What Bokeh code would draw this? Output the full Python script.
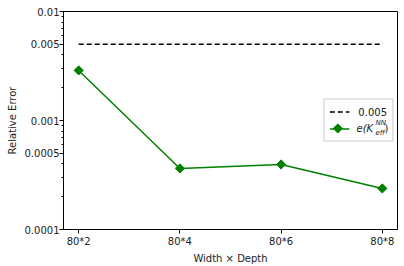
import math
from bokeh.plotting import figure
from bokeh.models import FixedTicker, Range1d, Legend, LegendItem, Label
from bokeh.embed import file_html
from bokeh.resources import INLINE

categories = ["80*2", "80*4", "80*6", "80*8"]
x_pos = [0, 1, 2, 3]
errors = [0.00288, 0.000363, 0.000395, 0.000238]
threshold = [0.005, 0.005, 0.005, 0.005]
y_major = [0.0001, 0.0005, 0.001, 0.005, 0.01]
y_major_labels = ["0.0001", "0.0005", "0.001", "0.005", "0.01"]
y_minor = [0.0002, 0.0003, 0.0004, 0.0006, 0.0007, 0.0008, 0.0009,
           0.002, 0.003, 0.004, 0.006, 0.007, 0.008, 0.009]

FONT = "DejaVu Sans"
TXT = "#222222"

p = figure(width=404, height=266, output_backend="svg", toolbar_location=None,
           y_axis_type="log", x_range=Range1d(-0.15, 3.15), y_range=Range1d(1e-4, 1e-2),
           min_border_left=63, min_border_right=7, min_border_top=11, min_border_bottom=37)
p.background_fill_color = "white"
p.border_fill_color = "white"
p.outline_line_color = "black"
p.outline_line_width = 1
p.xgrid.visible = False
p.ygrid.visible = False

r1 = p.line(x_pos, threshold, line_color="black", line_dash="5 3", line_width=1.5)
r2 = p.line(x_pos, errors, line_color="green", line_width=1.5)
r3 = p.scatter(x_pos, errors, marker="square", angle=math.pi / 4, size=6.5, color="green")

p.xaxis.ticker = FixedTicker(ticks=x_pos)
p.xaxis.major_label_overrides = {x: c for x, c in zip(x_pos, categories)}
p.xaxis.axis_label = "Width × Depth"
p.yaxis.ticker = FixedTicker(ticks=y_major, minor_ticks=y_minor)
p.yaxis.major_label_overrides = {v: s for v, s in zip(y_major, y_major_labels)}
p.yaxis.axis_label = "Relative Error"

for ax in (p.xaxis[0], p.yaxis[0]):
    ax.axis_line_color = "black"
    ax.major_tick_line_color = "black"
    ax.minor_tick_line_color = "black"
    ax.major_tick_out = 4
    ax.major_tick_in = 0
    ax.minor_tick_out = 2
    ax.minor_tick_in = 0
    ax.major_label_text_font = FONT
    ax.major_label_text_font_size = "10px"
    ax.major_label_text_color = TXT
    ax.axis_label_text_font = FONT
    ax.axis_label_text_font_size = "10px"
    ax.axis_label_text_font_style = "normal"
    ax.axis_label_text_color = TXT
p.xaxis.minor_tick_line_color = None
p.xaxis.major_label_standoff = 2
p.xaxis.axis_label_standoff = 3
p.yaxis.major_label_standoff = 0
p.yaxis.axis_label_standoff = 4

legend = Legend(items=[LegendItem(label="0.005", renderers=[r1]),
                       LegendItem(label=" ", renderers=[r2])],
                location="center_right")
legend.label_text_font = FONT
legend.label_text_font_size = "10px"
legend.label_text_color = TXT
legend.border_line_color = "#cccccc"
legend.border_line_alpha = 1
legend.background_fill_alpha = 0
legend.margin = 4
legend.padding = 5
legend.spacing = 3
legend.glyph_width = 20
legend.glyph_height = 14
legend.label_standoff = 9
legend.label_height = 14
p.add_layout(legend)

# legend marker (rotated square) and mathtext-style label e(K_eff^NN)
p.scatter([2.56], [0.000845], marker="square", angle=math.pi / 4, size=6.5,
          color="green", level="overlay")
for txt, x, y, size, style in [("e(K", 2.745, 0.000845, "10px", "italic"),
                               ("NN", 2.933, 0.00094, "7px", "italic"),
                               ("eff", 2.933, 0.000776, "7px", "italic"),
                               (")", 3.022, 0.000845, "10px", "normal")]:
    p.add_layout(Label(x=x, y=y, text=txt, text_font=FONT, text_font_size=size,
                       text_font_style=style, text_color=TXT, text_baseline="middle",
                       level="overlay"))

open("out.html", "w").write(file_html(p, INLINE))
